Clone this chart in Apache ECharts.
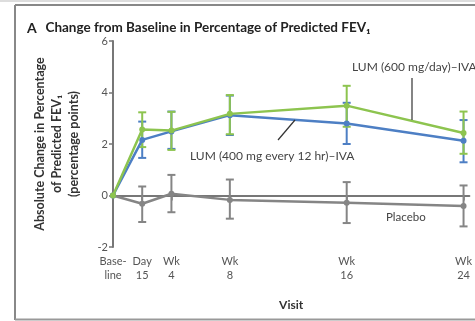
<!DOCTYPE html>
<html><head><meta charset="utf-8">
<script src="https://cdn.jsdelivr.net/npm/echarts@6/dist/echarts.min.js"></script>
<style>html,body{margin:0;padding:0;background:#fff}#c{width:475px;height:321px}</style>
</head><body><div id="c"></div>
<script>
const weeks = [0, 2, 4, 8, 16, 24];
const tickLabels = ['Base-\nline', 'Day\n15', 'Wk\n4', 'Wk\n8', 'Wk\n16', 'Wk\n24'];
const placeboMean = [0, -0.32, 0.07, -0.17, -0.28, -0.41];
const placeboLow  = [null, -1.03, -0.65, -0.9, -1.07, -1.2];
const placeboHigh = [null, 0.35, 0.8, 0.62, 0.52, 0.39];
const lum400Mean = [0, 2.16, 2.49, 3.12, 2.8, 2.13];
const lum400Low  = [null, 1.46, 1.81, 2.35, 2.0, 1.29];
const lum400High = [null, 2.87, 3.26, 3.88, 3.6, 2.93];
const lum600Mean = [0, 2.56, 2.52, 3.17, 3.49, 2.43];
const lum600Low  = [null, 1.88, 1.77, 2.38, 2.67, 1.62];
const lum600High = [null, 3.23, 3.25, 3.9, 4.26, 3.26];

const GRAY = '#858585', BLUE = '#4d7fc4', GREEN = '#8dc44f';
const FONT = 'Lato';

function pts(mean) { return weeks.map((w, i) => [w, mean[i]]); }
function errData(low, high) {
  const d = [];
  weeks.forEach((w, i) => { if (low[i] != null) d.push([w, low[i], high[i]]); });
  return d;
}
function errSeries(name, low, high, color) {
  return {
    type: 'custom', name: name + ' err', z: 3,
    data: errData(low, high),
    renderItem: function (params, api) {
      const x = api.value(0);
      const lo = api.coord([x, api.value(1)]);
      const hi = api.coord([x, api.value(2)]);
      const cw = 4;
      const st = { stroke: color, lineWidth: 2 };
      return { type: 'group', children: [
        { type: 'line', shape: { x1: lo[0], y1: lo[1], x2: hi[0], y2: hi[1] }, style: st },
        { type: 'line', shape: { x1: lo[0] - cw, y1: lo[1], x2: lo[0] + cw, y2: lo[1] }, style: st },
        { type: 'line', shape: { x1: hi[0] - cw, y1: hi[1], x2: hi[0] + cw, y2: hi[1] }, style: st }
      ]};
    }
  };
}
function lineSeries(name, mean, color, z) {
  return {
    type: 'line', name: name, data: pts(mean), z: z,
    symbol: 'circle', symbolSize: 6, showSymbol: true,
    lineStyle: { color: color, width: 2.5 },
    itemStyle: { color: color }
  };
}

const chart = echarts.init(document.getElementById('c'), null, { renderer: 'canvas' });
chart.setOption({
  animation: false,
  backgroundColor: '#fff',
  textStyle: { fontFamily: FONT },
  title: {
    text: '{a|A}  {b|Change from Baseline in Percentage of Predicted FEV₁}',
    left: 22, top: 14,
    textStyle: {
      rich: {
        a: { fontFamily: FONT, fontWeight: 'bold', fontSize: 14, color: '#222' },
        b: { fontFamily: FONT, fontWeight: 'bold', fontSize: 13.5, color: '#222' }
      }
    }
  },
  grid: { left: 113, top: 41, width: 357, height: 206, containLabel: false },
  xAxis: {
    type: 'value', min: 0, max: 24.4,
    name: 'Visit', nameLocation: 'middle', nameGap: 52,
    nameTextStyle: { fontFamily: FONT, fontWeight: 'bold', fontSize: 12, color: '#333' },
    axisLine: { lineStyle: { color: '#777', width: 2 } },
    axisTick: { show: true, customValues: weeks, length: 5, lineStyle: { color: '#777', width: 1.5 } },
    axisLabel: {
      customValues: weeks, color: '#555', fontSize: 11, lineHeight: 14, margin: 7,
      formatter: function (v) { const i = weeks.indexOf(v); return i >= 0 ? tickLabels[i] : ''; }
    },
    splitLine: { show: false }
  },
  yAxis: {
    type: 'value', min: -2, max: 6, interval: 2,
    axisLine: { show: true, lineStyle: { color: '#777', width: 2 } },
    axisTick: { show: true, length: 4, lineStyle: { color: '#777', width: 1.5 } },
    axisLabel: { color: '#555', fontSize: 11, margin: 5 },
    splitLine: { show: false }
  },
  series: [
    errSeries('Placebo', placeboLow, placeboHigh, GRAY),
    lineSeries('Placebo', placeboMean, GRAY, 4),
    errSeries('LUM400', lum400Low, lum400High, BLUE),
    lineSeries('LUM (400 mg every 12 hr)–IVA', lum400Mean, BLUE, 5),
    errSeries('LUM600', lum600Low, lum600High, GREEN),
    lineSeries('LUM (600 mg/day)–IVA', lum600Mean, GREEN, 6)
  ],
  graphic: [
    { type: 'line', shape: { x1: 0, y1: 1, x2: 475, y2: 1 }, style: { stroke: '#bbb', lineWidth: 1 } },
    { type: 'line', shape: { x1: 15, y1: 5, x2: 475, y2: 5 }, style: { stroke: '#888', lineWidth: 2 } },
    { type: 'line', shape: { x1: 15, y1: 5, x2: 15, y2: 320 }, style: { stroke: '#888', lineWidth: 2 } },
    { type: 'line', shape: { x1: 15, y1: 319.5, x2: 475, y2: 319.5 }, style: { stroke: '#999', lineWidth: 2 } },
    { type: 'text', x: 57, y: 144, rotation: Math.PI / 2,
      style: { text: 'Absolute Change in Percentage\nof Predicted FEV₁\n(percentage points)',
        fontFamily: FONT, fontWeight: 'bold', fontSize: 12.5, lineHeight: 17, fill: '#333',
        align: 'center', verticalAlign: 'middle' } },
    { type: 'text', left: 352, top: 61, style: { text: 'LUM (600 mg/day)–IVA', fontFamily: FONT, fontSize: 12, fill: '#444' } },
    { type: 'line', shape: { x1: 412, y1: 78, x2: 412, y2: 120 }, style: { stroke: '#333', lineWidth: 1.2 }, z: 10 },
    { type: 'text', left: 190, top: 150, style: { text: 'LUM (400 mg every 12 hr)–IVA', fontFamily: FONT, fontSize: 12, fill: '#444' } },
    { type: 'line', shape: { x1: 278, y1: 140, x2: 295, y2: 120 }, style: { stroke: '#333', lineWidth: 1.2 }, z: 10 },
    { type: 'text', left: 386, top: 211, style: { text: 'Placebo', fontFamily: FONT, fontSize: 11.5, fill: '#444' } }
  ]
});
</script></body></html>
